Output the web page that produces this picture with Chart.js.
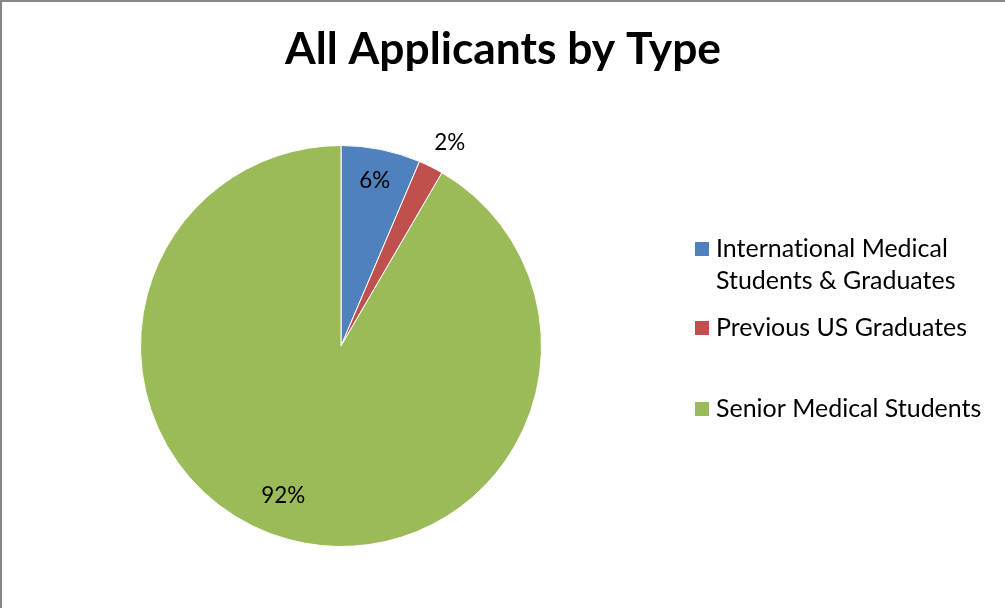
<!DOCTYPE html>
<html>
<head>
<meta charset="utf-8">
<script src="https://cdn.jsdelivr.net/npm/chart.js@4.4.1/dist/chart.umd.min.js"></script>
<style>
  body { margin: 0; background: #fff; }
  #wrap { position: relative; width: 1005px; height: 608px; }
</style>
</head>
<body>
<div id="wrap"><canvas id="pieChart" width="1005" height="608"></canvas></div>
<script>
const chartTitle = 'All Applicants by Type';
const categories = ['International Medical Students & Graduates', 'Previous US Graduates', 'Senior Medical Students'];
const legendLines = [['International Medical', 'Students & Graduates'], ['Previous US Graduates'], ['Senior Medical Students']];
const shares = [6.4, 2.0, 91.6];
const percentLabels = ['6%', '2%', '92%'];
const colors = ['#4F81BD', '#C0504D', '#9BBB59'];

const FONT = 'Lato, "Open Sans", sans-serif';

// pick a font size so that text spans the given width
function fitSize(ctx, text, weight, width) {
    ctx.font = weight + ' 100px ' + FONT;
    return 100 * width / ctx.measureText(text).width;
}

// Lato joins "ti" into a ligature; a zero-width non-joiner keeps the letters apart
const noLig = s => s.replace(/t(?=i)/g, 't\u200C');

// label placement: fraction of radius and small angle nudge (deg)
const labelRadius = [0.84, 1.15, 0.80];
const labelNudge = [0, 1.5, 6];

const decor = {
    id: 'decor',
    beforeDraw(chart) {
        const ctx = chart.ctx;
        ctx.save();
        ctx.fillStyle = '#fff';
        ctx.fillRect(0, 0, chart.width, chart.height);
        ctx.fillStyle = '#878787';
        ctx.fillRect(0, 0, 2, chart.height);
        ctx.fillRect(0, 0, chart.width, 2);
        ctx.restore();
    },
    afterDatasetsDraw(chart) {
        const ctx = chart.ctx;
        const meta = chart.getDatasetMeta(0);
        const size = fitSize(ctx, '92%', 'normal', 44);
        ctx.save();
        ctx.font = 'normal ' + size + 'px ' + FONT;
        ctx.fillStyle = '#000';
        ctx.textAlign = 'center';
        ctx.textBaseline = 'middle';
        meta.data.forEach((arc, i) => {
            const p = arc.getProps(['x', 'y', 'startAngle', 'endAngle', 'outerRadius'], true);
            const mid = (p.startAngle + p.endAngle) / 2 + labelNudge[i] * Math.PI / 180;
            const r = p.outerRadius * labelRadius[i];
            ctx.fillText(percentLabels[i], p.x + Math.cos(mid) * r, p.y + Math.sin(mid) * r);
        });
        ctx.restore();
    },
    afterDraw(chart) {
        const ctx = chart.ctx;
        ctx.save();
        // title
        const tSize = fitSize(ctx, chartTitle, 'bold', 436);
        ctx.font = 'bold ' + tSize + 'px ' + FONT;
        ctx.fillStyle = '#000';
        ctx.textAlign = 'center';
        ctx.textBaseline = 'alphabetic';
        ctx.fillText(chartTitle, 503, 64);
        // legend
        const lSize = fitSize(ctx, noLig('International Medical'), 'normal', 232);
        ctx.font = 'normal ' + lSize + 'px ' + FONT;
        ctx.textAlign = 'left';
        const baselines = [[257, 289], [336], [417]];
        legendLines.forEach((lines, i) => {
            ctx.fillStyle = colors[i];
            ctx.fillRect(695, baselines[i][0] - 15, 14, 14);
            ctx.fillStyle = '#000';
            lines.forEach((t, j) => ctx.fillText(noLig(t), 716, baselines[i][j]));
        });
        ctx.restore();
    }
};

new Chart(document.getElementById('pieChart'), {
    type: 'pie',
    data: {
        labels: categories,
        datasets: [{
            data: shares,
            backgroundColor: colors,
            borderColor: '#fff',
            borderWidth: 1
        }]
    },
    options: {
        responsive: false,
        animation: false,
        layout: { padding: { left: 140, right: 463, top: 145, bottom: 61 } },
        plugins: {
            legend: { display: false },
            title: { display: false },
            tooltip: { enabled: false }
        }
    },
    plugins: [decor]
});
</script>
</body>
</html>
